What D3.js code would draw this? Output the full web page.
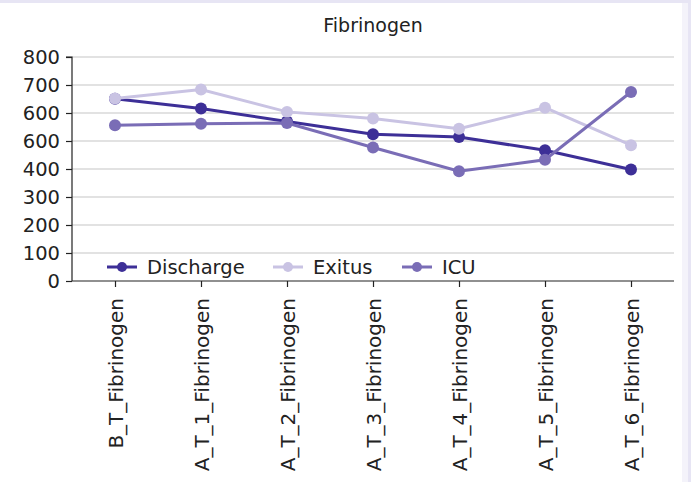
<!DOCTYPE html>
<html>
<head>
<meta charset="utf-8">
<script src="https://cdn.jsdelivr.net/npm/d3@7"></script>
<style>
  html, body { margin: 0; padding: 0; background: #e7e5f4; }
  svg { display: block; }
  text { font-family: "DejaVu Sans", Verdana, sans-serif; fill: #222; }
</style>
</head>
<body>
<svg id="chart" width="691" height="482"></svg>
<script>
const categories = ["B_T_Fibrinogen", "A_T_1_Fibrinogen", "A_T_2_Fibrinogen", "A_T_3_Fibrinogen",
                    "A_T_4_Fibrinogen", "A_T_5_Fibrinogen", "A_T_6_Fibrinogen"];
const seriesNames = ["Discharge", "Exitus", "ICU"];
const discharge = [651, 616, 570, 524, 514, 467, 398];
const exitus    = [652, 684, 604, 580, 544, 619, 485];
const icu       = [556, 562, 564, 477, 392, 433, 675];
const tickValues = [0, 100, 200, 300, 400, 500, 600, 700, 800];
const tickLabels = ["0", "100", "200", "300", "400", "600", "600", "700", "800"];
const colors = ["#3d2f97", "#c9c3e3", "#7a6db6"];
const title = "Fibrinogen";

const seriesData = [discharge, exitus, icu];

const svg = d3.select("#chart");
const W = 691, H = 482;
// frame
svg.append("rect").attr("x", 0).attr("y", 0).attr("width", W).attr("height", H).attr("fill", "#e7e5f4");
svg.append("rect").attr("x", 0).attr("y", 3).attr("width", 688).attr("height", H - 3).attr("fill", "#f4f3fa");
svg.append("rect").attr("x", 0).attr("y", 3).attr("width", 682).attr("height", H - 3).attr("fill", "#ffffff");

const m = { left: 72, right: 674, top: 57, bottom: 281 };
const x = d3.scalePoint().domain(categories).range([m.left, m.right]).padding(0.5);
const y = d3.scaleLinear().domain([0, 800]).range([m.bottom, m.top]);

// gridlines
svg.append("g").selectAll("line").data(tickValues.filter(v => v > 0)).join("line")
  .attr("x1", m.left).attr("x2", m.right)
  .attr("y1", d => y(d)).attr("y2", d => y(d))
  .attr("stroke", "#d9d9d9").attr("stroke-width", 1.5);

// y axis
const yAxis = svg.append("g").attr("transform", `translate(${m.left},0)`)
  .call(d3.axisLeft(y).tickValues(tickValues).tickSize(6).tickPadding(6)
    .tickFormat((d, i) => tickLabels[i]));
yAxis.select(".domain").attr("stroke", "#222").attr("stroke-width", 1.2).attr("d", `M-6,${m.top}H0V${m.bottom}`);
yAxis.selectAll(".tick line").attr("stroke", "#222").attr("stroke-width", 1.2);
yAxis.selectAll(".tick text").attr("font-size", 19.5).attr("font-family", "DejaVu Sans").attr("fill", "#222");

// x axis
const xAxis = svg.append("g").attr("transform", `translate(0,${m.bottom})`)
  .call(d3.axisBottom(x).tickSize(6).tickPadding(4));
xAxis.select(".domain").attr("stroke", "#222").attr("stroke-width", 1.2).attr("d", `M${m.left},0H${m.right}`);
xAxis.selectAll(".tick line").attr("stroke", "#222").attr("stroke-width", 1.2);
xAxis.selectAll(".tick text")
  .attr("font-size", 20).attr("font-family", "DejaVu Sans").attr("fill", "#222")
  .attr("text-anchor", "end").attr("dy", null)
  .attr("transform", "rotate(-90)")
  .attr("x", -17).attr("y", 0).attr("dominant-baseline", "central");

// title
svg.append("text").attr("x", (m.left + m.right) / 2).attr("y", 32)
  .attr("text-anchor", "middle").attr("font-size", 19).text(title);

// series
const line = d3.line().x((d, i) => x(categories[i])).y(d => y(d));
seriesData.forEach((vals, si) => {
  const g = svg.append("g");
  g.append("path").datum(vals).attr("d", line).attr("fill", "none")
    .attr("stroke", colors[si]).attr("stroke-width", 3);
  g.selectAll("circle").data(vals).join("circle")
    .attr("cx", (d, i) => x(categories[i])).attr("cy", d => y(d)).attr("r", 6)
    .attr("fill", colors[si]);
});

// legend
const legendX = [107, 273, 402];
const ly = 267;
const lg = svg.append("g");
seriesNames.forEach((name, i) => {
  const gx = legendX[i];
  lg.append("line").attr("x1", gx).attr("x2", gx + 30).attr("y1", ly).attr("y2", ly)
    .attr("stroke", colors[i]).attr("stroke-width", 3);
  lg.append("circle").attr("cx", gx + 15).attr("cy", ly).attr("r", 5).attr("fill", colors[i]);
  lg.append("text").attr("x", gx + 40).attr("y", ly).attr("dominant-baseline", "central")
    .attr("font-size", 19.5).text(name);
});
</script>
</body>
</html>
